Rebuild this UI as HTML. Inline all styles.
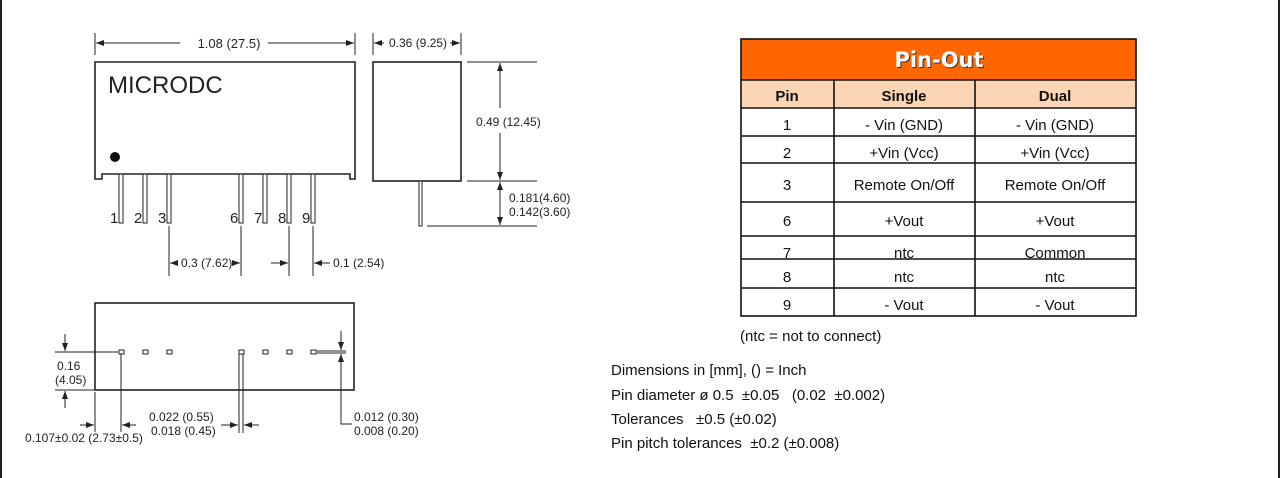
<!DOCTYPE html>
<html><head><meta charset="utf-8"><style>
html,body{margin:0;padding:0;background:#fff;}
svg{display:block;}
text{font-family:"Liberation Sans",sans-serif;}
</style></head><body>
<svg width="1280" height="478" viewBox="0 0 1280 478" xmlns="http://www.w3.org/2000/svg">
<defs>
<marker id="a" markerWidth="8" markerHeight="6" refX="8" refY="3" orient="auto" markerUnits="userSpaceOnUse"><path d="M0,0 L8,3 L0,6 z" fill="#222"/></marker>
</defs>
<rect x="0" y="0" width="1280" height="478" fill="#fff"/>
<rect x="0" y="0" width="2" height="478" fill="#222"/>
<rect x="1278" y="0" width="2" height="478" fill="#222"/>

<g stroke="#222" fill="none" stroke-width="1">
<line x1="95" y1="33" x2="95" y2="55"/><line x1="355" y1="33" x2="355" y2="55"/>
<line x1="180" y1="43" x2="96" y2="43" marker-end="url(#a)"/>
<line x1="268" y1="43" x2="354" y2="43" marker-end="url(#a)"/>
<path d="M95,179 L95,62 L355,62 L355,179 L350,179 L350,174 L102,174 L102,179 Z" stroke-width="1.6"/>
</g>
<text x="108" y="93" font-size="24" fill="#222">MICRODC</text>
<circle cx="115" cy="157" r="5" fill="#111"/>
<g stroke="#222" fill="#fff" stroke-width="1">
<rect x="119" y="174" width="4" height="49"/>
<rect x="143" y="174" width="4" height="49"/>
<rect x="167" y="174" width="4" height="49"/>
<rect x="239" y="174" width="4" height="49"/>
<rect x="263" y="174" width="4" height="49"/>
<rect x="287" y="174" width="4" height="49"/>
<rect x="311" y="174" width="4" height="49"/>
</g>
<g font-size="15" fill="#222">
<text x="110" y="223">1</text><text x="134" y="223">2</text><text x="158" y="223">3</text>
<text x="230" y="223">6</text><text x="254" y="223">7</text><text x="278" y="223">8</text><text x="302" y="223">9</text>
</g>
<text x="229" y="48" font-size="13" fill="#222" text-anchor="middle">1.08 (27.5)</text>

<!-- side view -->
<g stroke="#222" fill="none" stroke-width="1">
<rect x="373" y="62" width="88" height="119" stroke-width="1.6"/>
<rect x="419" y="181" width="3" height="45" fill="#fff"/>
<line x1="373" y1="33" x2="373" y2="55"/><line x1="461" y1="33" x2="461" y2="55"/>
<line x1="384" y1="43" x2="374" y2="43" marker-end="url(#a)"/>
<line x1="450" y1="43" x2="460" y2="43" marker-end="url(#a)"/>
<line x1="467" y1="62" x2="537" y2="62"/>
<line x1="467" y1="181" x2="537" y2="181"/>
<line x1="427" y1="226" x2="537" y2="226"/>
<line x1="500" y1="108" x2="500" y2="63" marker-end="url(#a)"/>
<line x1="500" y1="133" x2="500" y2="180" marker-end="url(#a)"/>
<line x1="500" y1="195" x2="500" y2="182" marker-end="url(#a)"/>
<line x1="500" y1="212" x2="500" y2="225" marker-end="url(#a)"/>
<line x1="500" y1="190" x2="500" y2="215"/>
</g>
<g font-size="12" fill="#222">
<text x="389" y="47">0.36 (9.25)</text>
<text x="476" y="126">0.49 (12.45)</text>
<text x="509" y="202">0.181(4.60)</text>
<text x="509" y="216">0.142(3.60)</text>
</g>

<!-- pitch dims -->
<g stroke="#222" fill="none" stroke-width="1">
<line x1="169" y1="226" x2="169" y2="276"/>
<line x1="241" y1="226" x2="241" y2="276"/>
<line x1="289" y1="226" x2="289" y2="276"/>
<line x1="313" y1="226" x2="313" y2="276"/>
<line x1="178" y1="263" x2="170" y2="263" marker-end="url(#a)"/>
<line x1="232" y1="263" x2="240" y2="263" marker-end="url(#a)"/>
<line x1="271" y1="263" x2="288" y2="263" marker-end="url(#a)"/>
<line x1="330" y1="263" x2="314" y2="263" marker-end="url(#a)"/>
</g>
<text x="181" y="267" font-size="12" fill="#222">0.3 (7.62)</text>
<text x="333" y="267" font-size="12" fill="#222">0.1 (2.54)</text>

<!-- bottom view -->
<g stroke="#222" fill="none" stroke-width="1">
<rect x="95" y="303" width="259" height="87" stroke-width="1.6"/>
<g fill="#fff">
<rect x="119" y="350" width="5" height="4"/><rect x="143" y="350" width="5" height="4"/><rect x="167" y="350" width="5" height="4"/>
<rect x="239" y="350" width="5" height="4"/><rect x="263" y="350" width="5" height="4"/><rect x="287" y="350" width="5" height="4"/><rect x="311" y="350" width="5" height="4"/>
</g>
<line x1="55" y1="352" x2="118" y2="352"/>
<line x1="55" y1="390" x2="94" y2="390"/>
<line x1="65" y1="334" x2="65" y2="351" marker-end="url(#a)"/>
<line x1="65" y1="408" x2="65" y2="391" marker-end="url(#a)"/>
<line x1="95" y1="392" x2="95" y2="432"/>
<line x1="121" y1="354" x2="121" y2="432"/>
<line x1="80" y1="425" x2="94" y2="425" marker-end="url(#a)"/>
<line x1="136" y1="425" x2="122" y2="425" marker-end="url(#a)"/>
<line x1="239" y1="354" x2="239" y2="433"/>
<line x1="243" y1="354" x2="243" y2="433"/>
<line x1="221" y1="425" x2="238" y2="425" marker-end="url(#a)"/>
<line x1="259" y1="425" x2="244" y2="425" marker-end="url(#a)"/>
<line x1="317" y1="351" x2="346" y2="351"/>
<line x1="317" y1="353" x2="346" y2="353"/>
<line x1="341" y1="331" x2="341" y2="350" marker-end="url(#a)"/>
<line x1="341" y1="372" x2="341" y2="354" marker-end="url(#a)"/>
<path d="M341,372 L341,424 L352,424"/>
</g>
<g font-size="12" fill="#222">
<text x="57" y="370">0.16</text>
<text x="55" y="384">(4.05)</text>
<text x="25" y="442">0.107±0.02 (2.73±0.5)</text>
<text x="149" y="421">0.022 (0.55)</text>
<text x="151" y="435">0.018 (0.45)</text>
<text x="354" y="421">0.012 (0.30)</text>
<text x="354" y="435">0.008 (0.20)</text>
</g>

<!-- table -->
<rect x="741" y="39" width="395" height="41" fill="#ff6600"/>
<rect x="741" y="80" width="395" height="28" fill="#fcd5b4"/>
<text x="940" y="68" font-weight="bold" font-size="21" fill="#333" text-anchor="middle" style="font-family:'DejaVu Sans',sans-serif">Pin-Out</text>
<text x="939" y="67" font-weight="bold" font-size="21" fill="#fff" text-anchor="middle" style="font-family:'DejaVu Sans',sans-serif">Pin-Out</text>
<g stroke="#111" stroke-width="1.6" fill="none">
<rect x="741" y="39" width="395" height="277"/>
<line x1="741" y1="80" x2="1136" y2="80"/>
<line x1="741" y1="108" x2="1136" y2="108"/>
<line x1="741" y1="136" x2="1136" y2="136"/>
<line x1="741" y1="163" x2="1136" y2="163"/>
<line x1="741" y1="202" x2="1136" y2="202"/>
<line x1="741" y1="236" x2="1136" y2="236"/>
<line x1="741" y1="259" x2="1136" y2="259"/>
<line x1="741" y1="288" x2="1136" y2="288"/>
<line x1="834" y1="80" x2="834" y2="316"/>
<line x1="975" y1="80" x2="975" y2="316"/>
</g>
<g font-size="15" fill="#111" text-anchor="middle">
<text x="787" y="101" font-weight="bold">Pin</text><text x="904" y="101" font-weight="bold">Single</text><text x="1055" y="101" font-weight="bold">Dual</text>
<text x="787" y="130">1</text><text x="904" y="130">- Vin (GND)</text><text x="1055" y="130">- Vin (GND)</text>
<text x="787" y="158">2</text><text x="904" y="158">+Vin (Vcc)</text><text x="1055" y="158">+Vin (Vcc)</text>
<text x="787" y="190">3</text><text x="904" y="190">Remote On/Off</text><text x="1055" y="190">Remote On/Off</text>
<text x="787" y="226">6</text><text x="904" y="226">+Vout</text><text x="1055" y="226">+Vout</text>
<text x="787" y="258">7</text><text x="904" y="258">ntc</text><text x="1055" y="258">Common</text>
<text x="787" y="282">8</text><text x="904" y="282">ntc</text><text x="1055" y="282">ntc</text>
<text x="787" y="310">9</text><text x="904" y="310">- Vout</text><text x="1055" y="310">- Vout</text>
</g>
<g font-size="15" fill="#111">
<text x="740" y="341">(ntc = not to connect)</text>
<text x="611" y="375">Dimensions in [mm], () = Inch</text>
<text x="611" y="400">Pin diameter ø 0.5 &#160;±0.05 &#160;&#160;(0.02 &#160;±0.002)</text>
<text x="611" y="424">Tolerances &#160;&#160;±0.5 (±0.02)</text>
<text x="611" y="448">Pin pitch tolerances &#160;±0.2 (±0.008)</text>
</g>
</svg>
</body></html>
